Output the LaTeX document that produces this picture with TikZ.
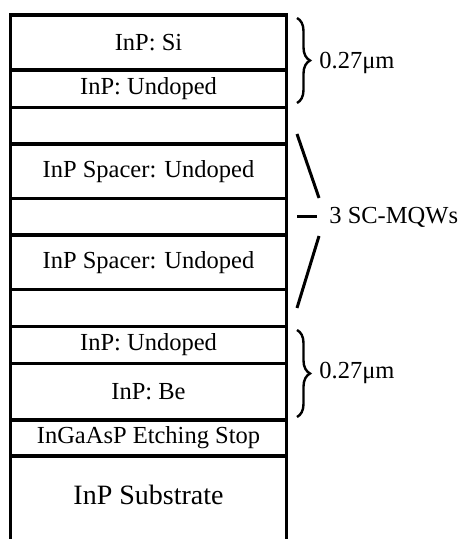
\documentclass[tikz,border=0pt]{standalone}
\usepackage{fontspec}
\setmainfont{Liberation Serif}
\usetikzlibrary{decorations.pathreplacing}
\begin{document}
\begin{tikzpicture}[x=0.5pt,y=-0.5pt,
  layer/.style={draw, line width=1.7pt, minimum width=138pt, inner sep=0pt, outer sep=0pt,
    font=\fontsize{12.25}{14}\selectfont},
  subst/.style={inner sep=0pt, font=\fontsize{14}{16}\selectfont},
  side/.style={line width=1.7pt},
  bracestyle/.style={line width=1.2pt, decorate, decoration={brace, amplitude=6.5pt}},
  mark line/.style={line width=1.5pt},
  label/.style={anchor=west, inner sep=0pt, font=\fontsize{12.25}{14}\selectfont}]
\useasboundingbox (0,0) rectangle (460,539);
\newcommand{\mylayer}[4]{\node[layer, minimum height={(#3-#2)*0.5pt}] (#1) at (148.5,{(#2+#3)/2}) {#4};}
\mylayer{l1}{15}{70}{InP: Si}
\mylayer{l2}{70}{107.5}{InP: Undoped}
\mylayer{l3}{107.5}{144}{}
\mylayer{l4}{144}{198.3}{InP Spacer: Undoped}
\mylayer{l5}{198.3}{235}{}
\mylayer{l6}{235}{289.5}{InP Spacer: Undoped}
\mylayer{l7}{289.5}{326.7}{}
\mylayer{l8}{326.7}{363.3}{InP: Undoped}
\mylayer{l9}{363.3}{420}{InP: Be}
\mylayer{l10}{420}{456}{InGaAsP Etching Stop}
\node[subst] (l11) at (148.5,495) {InP Substrate};
\coordinate (bl) at (10.5,545);
\coordinate (br) at (286.5,545);
\draw[side] (l10.south west) -- (bl);
\draw[side] (l10.south east) -- (br);
% braces
\coordinate (b1t) at (297,18);
\coordinate (b1b) at (297,103);
\coordinate (b2t) at (297,330);
\coordinate (b2b) at (297,417);
\draw[bracestyle] (b1t) -- (b1b);
\draw[bracestyle] (b2t) -- (b2b);
\node[label] (t1) at (319,63) {0.27μm};
\node[label] (t2) at (319,373) {0.27μm};
% MQW marks
\coordinate (m1a) at (297,134);
\coordinate (m1b) at (319,198);
\coordinate (m2a) at (297,216.7);
\coordinate (m2b) at (317,216.7);
\coordinate (m3a) at (319,236);
\coordinate (m3b) at (297,308);
\draw[mark line] (m1a) -- (m1b);
\draw[mark line] (m2a) -- (m2b);
\draw[mark line] (m3a) -- (m3b);
\node[label] (t3) at (329,217) {3 SC-MQWs};
\end{tikzpicture}
\end{document}
